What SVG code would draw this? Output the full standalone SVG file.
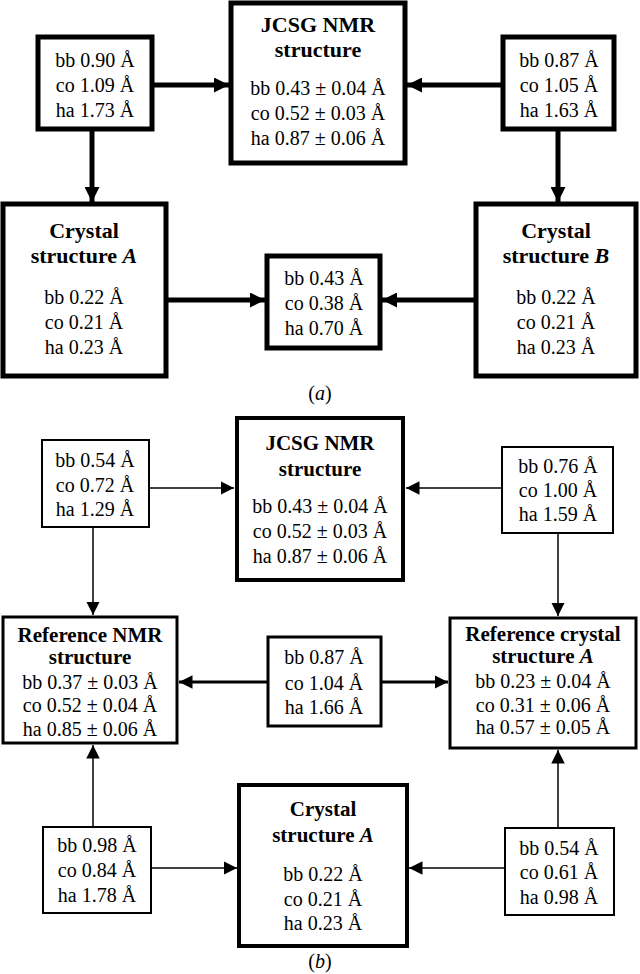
<svg xmlns="http://www.w3.org/2000/svg" width="640" height="974" viewBox="0 0 640 974" font-family="Liberation Serif, Times New Roman, DejaVu Serif, serif">
<style>
text{font-family:'Liberation Serif','Times New Roman','DejaVu Serif',serif;font-size:20px;text-anchor:middle;fill:#000}
.t{font-weight:bold;font-size:22px}
.tb{font-weight:bold;font-size:21px}
.b5{fill:#fff;stroke:#000;stroke-width:5}
.b4{fill:#fff;stroke:#000;stroke-width:4}
.b3{fill:#fff;stroke:#000;stroke-width:3}
.b2{fill:#fff;stroke:#000;stroke-width:2}
.c5{stroke:#000;stroke-width:5;fill:none}
.c3{stroke:#000;stroke-width:3;fill:none}
.c1{stroke:#000;stroke-width:1.5;fill:none}
</style>
<defs>
<marker id="a" viewBox="0 0 10 10" refX="10" refY="5" markerWidth="3" markerHeight="3" orient="auto" markerUnits="strokeWidth"><path d="M0,0L10,5L0,10z"/></marker>
<marker id="m" viewBox="0 0 10 10" refX="10" refY="5" markerWidth="4.5" markerHeight="4.5" orient="auto" markerUnits="strokeWidth"><path d="M0,0L10,5L0,10z"/></marker>
<marker id="s" viewBox="0 0 10 10" refX="10" refY="5" markerWidth="9" markerHeight="9" orient="auto" markerUnits="strokeWidth"><path d="M0,0L10,5L0,10z"/></marker>
</defs>
<g id="connectors">
<line class="c5" x1="152" y1="85" x2="229" y2="85" marker-end="url(#a)"/>
<line class="c5" x1="503" y1="85" x2="407" y2="85" marker-end="url(#a)"/>
<line class="c5" x1="92" y1="129" x2="92" y2="202" marker-end="url(#a)"/>
<line class="c5" x1="558" y1="129" x2="558" y2="202" marker-end="url(#a)"/>
<line class="c5" x1="166" y1="300" x2="265" y2="300" marker-end="url(#a)"/>
<line class="c5" x1="476" y1="300" x2="382" y2="300" marker-end="url(#a)"/>
<line class="c1" x1="149" y1="488" x2="234" y2="488" marker-end="url(#s)"/>
<line class="c1" x1="502" y1="488" x2="406" y2="488" marker-end="url(#s)"/>
<line class="c1" x1="93" y1="527" x2="93" y2="615" marker-end="url(#s)"/>
<line class="c1" x1="558" y1="533" x2="558" y2="616" marker-end="url(#s)"/>
<line class="c3" x1="268" y1="682" x2="179" y2="682" marker-end="url(#m)"/>
<line class="c3" x1="381" y1="682" x2="448" y2="682" marker-end="url(#m)"/>
<line class="c1" x1="93" y1="827" x2="93" y2="745" marker-end="url(#s)"/>
<line class="c1" x1="558" y1="828" x2="558" y2="750" marker-end="url(#s)"/>
<line class="c1" x1="151" y1="868" x2="237" y2="868" marker-end="url(#s)"/>
<line class="c1" x1="505" y1="868" x2="409" y2="868" marker-end="url(#s)"/>
</g>
<g id="a-left"><rect class="b5" x="38" y="37" width="114" height="92"/><text x="95" y="67">bb 0.90 Å</text><text x="95" y="92">co 1.09 Å</text><text x="95" y="117">ha 1.73 Å</text></g>
<g id="a-jcsg"><rect class="b5" x="231" y="3" width="174" height="160"/><text class="t" x="318" y="32">JCSG NMR</text><text class="t" x="318" y="57">structure</text><text x="318" y="95">bb 0.43 ± 0.04 Å</text><text x="318" y="120">co 0.52 ± 0.03 Å</text><text x="318" y="145">ha 0.87 ± 0.06 Å</text></g>
<g id="a-right"><rect class="b5" x="503" y="37" width="111" height="92"/><text x="559" y="67">bb 0.87 Å</text><text x="559" y="92">co 1.05 Å</text><text x="559" y="117">ha 1.63 Å</text></g>
<g id="a-crysA"><rect class="b5" x="3" y="204" width="163" height="172"/><text class="t" x="84" y="238">Crystal</text><text class="t" x="84" y="263">structure <tspan font-style="italic">A</tspan></text><text x="84" y="304">bb 0.22 Å</text><text x="84" y="329">co 0.21 Å</text><text x="84" y="354">ha 0.23 Å</text></g>
<g id="a-mid"><rect class="b5" x="267" y="256" width="113" height="92"/><text x="324" y="285">bb 0.43 Å</text><text x="324" y="310">co 0.38 Å</text><text x="324" y="335">ha 0.70 Å</text></g>
<g id="a-crysB"><rect class="b5" x="476" y="204" width="160" height="172"/><text class="t" x="556" y="238">Crystal</text><text class="t" x="556" y="263">structure <tspan font-style="italic">B</tspan></text><text x="556" y="304">bb 0.22 Å</text><text x="556" y="329">co 0.21 Å</text><text x="556" y="354">ha 0.23 Å</text></g>
<text x="320" y="400">(<tspan font-style="italic">a</tspan>)</text>
<g id="b-left"><rect class="b2" x="42" y="440" width="107" height="87"/><text x="95" y="467">bb 0.54 Å</text><text x="95" y="492">co 0.72 Å</text><text x="95" y="516">ha 1.29 Å</text></g>
<g id="b-jcsg"><rect class="b4" x="237" y="418" width="166" height="162"/><text class="tb" x="320" y="450">JCSG NMR</text><text class="tb" x="320" y="476">structure</text><text x="320" y="513">bb 0.43 ± 0.04 Å</text><text x="320" y="538">co 0.52 ± 0.03 Å</text><text x="320" y="563">ha 0.87 ± 0.06 Å</text></g>
<g id="b-right"><rect class="b2" x="502" y="447" width="111" height="86"/><text x="558" y="473">bb 0.76 Å</text><text x="558" y="497">co 1.00 Å</text><text x="558" y="521">ha 1.59 Å</text></g>
<g id="b-refnmr"><rect class="b3" x="3" y="617" width="174" height="126"/><text class="tb" x="90" y="642">Reference NMR</text><text class="tb" x="90" y="664">structure</text><text x="90" y="689">bb 0.37 ± 0.03 Å</text><text x="90" y="712">co 0.52 ± 0.04 Å</text><text x="90" y="736">ha 0.85 ± 0.06 Å</text></g>
<g id="b-mid"><rect class="b3" x="268" y="637" width="113" height="89"/><text x="324" y="664">bb 0.87 Å</text><text x="324" y="690">co 1.04 Å</text><text x="324" y="714">ha 1.66 Å</text></g>
<g id="b-refcrys"><rect class="b3" x="450" y="618" width="186" height="130"/><text class="tb" x="543" y="641">Reference crystal</text><text class="tb" x="543" y="663">structure <tspan font-style="italic">A</tspan></text><text x="543" y="688">bb 0.23 ± 0.04 Å</text><text x="543" y="712">co 0.31 ± 0.06 Å</text><text x="543" y="734">ha 0.57 ± 0.05 Å</text></g>
<g id="b-crysA"><rect class="b4" x="239" y="785" width="168" height="161"/><text class="tb" x="323" y="816">Crystal</text><text class="tb" x="323" y="842">structure <tspan font-style="italic">A</tspan></text><text x="323" y="881">bb 0.22 Å</text><text x="323" y="906">co 0.21 Å</text><text x="323" y="930">ha 0.23 Å</text></g>
<g id="b-bl"><rect class="b2" x="43" y="827" width="108" height="86"/><text x="97" y="852">bb 0.98 Å</text><text x="97" y="877">co 0.84 Å</text><text x="97" y="902">ha 1.78 Å</text></g>
<g id="b-br"><rect class="b2" x="505" y="828" width="109" height="87"/><text x="559" y="855">bb 0.54 Å</text><text x="559" y="879">co 0.61 Å</text><text x="559" y="904">ha 0.98 Å</text></g>
<text x="320" y="968">(<tspan font-style="italic">b</tspan>)</text>
</svg>
